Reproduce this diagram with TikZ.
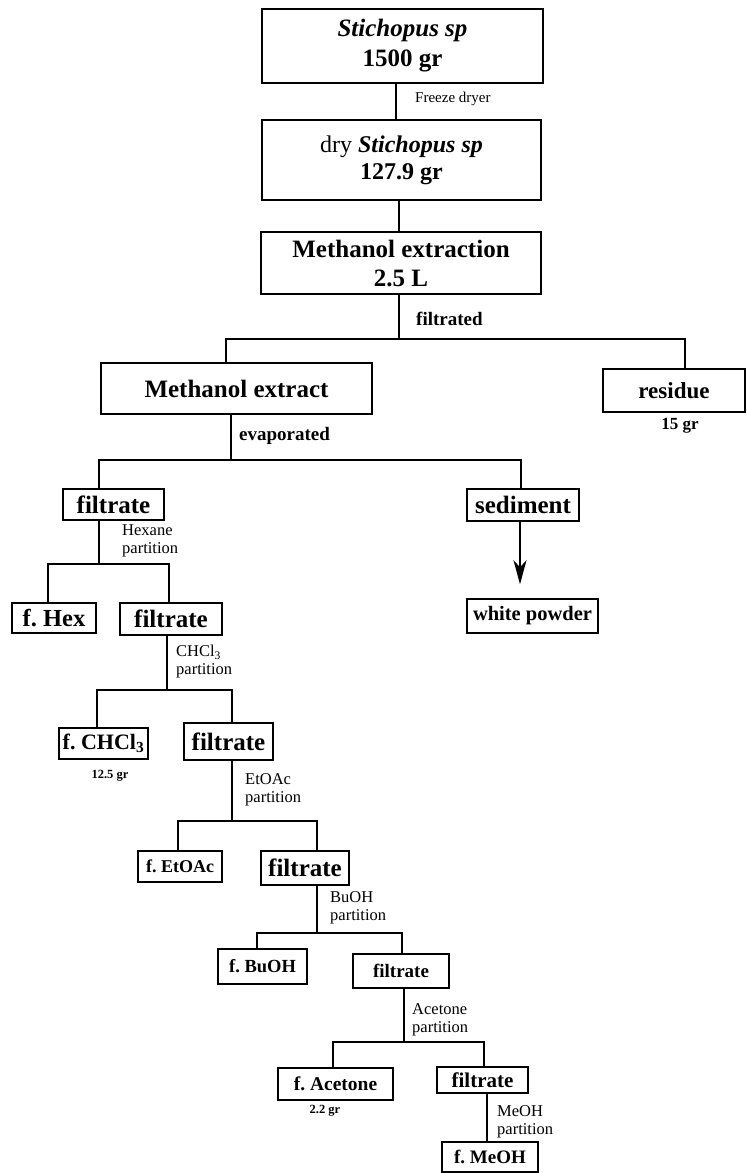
\documentclass[tikz,border=0pt]{standalone}
\usepackage{fontspec}
\setmainfont{Liberation Serif}
\usetikzlibrary{arrows.meta}
\frenchspacing
\newcommand{\fsz}[2]{\fontsize{#1}{#2}\selectfont}
\tikzset{
  box/.style={draw, line width=1.5pt, inner sep=0pt, align=center},
  conn/.style={line width=1.5pt},
  lbl/.style={inner sep=0pt, anchor=west, align=left, font=\fsz{16.5}{18}},
  wt/.style={inner sep=0pt, font=\bfseries\fsz{12.5}{14}},
}
\begin{document}
\frenchspacing
\begin{tikzpicture}[x=1pt,y=-1pt]
\useasboundingbox (0,0) rectangle (747,1173);

% boxes
\node[box, minimum width=281pt, minimum height=74pt, font=\bfseries\fsz{25}{30}] (b1) at (402.5,46) {\textit{Stichopus sp}\\1500 gr};
\node[box, minimum width=279pt, minimum height=80pt, font=\bfseries\fsz{24}{27}] (b2) at (401.5,160) {{\mdseries dry} \textit{Stichopus sp}\\127.9 gr};
\node[box, minimum width=280pt, minimum height=62pt, font=\bfseries\fsz{25}{29}] (b3) at (401,263) {Methanol extraction\\2.5 L};
\node[box, minimum width=271pt, minimum height=51pt, font=\bfseries\fsz{25}{27}] (mex) at (236.5,388.5) {Methanol extract};
\node[box, minimum width=142pt, minimum height=43pt, font=\bfseries\fsz{23}{26}] (res) at (674,390.5) {residue};
\node[box, minimum width=101pt, minimum height=31pt, font=\bfseries\fsz{25}{27}] (fil1) at (113.5,504.5) {filtrate};
\node[box, minimum width=112pt, minimum height=32pt, font=\bfseries\fsz{25}{27}] (sed) at (523,505) {sediment};
\node[box, minimum width=131pt, minimum height=34pt, font=\bfseries\fsz{20.5}{23}] (wp) at (532.5,616) {white powder};
\node[box, minimum width=84pt, minimum height=30pt, font=\bfseries\fsz{24.5}{27}] (fhex) at (54,618) {f. Hex};
\node[box, minimum width=102pt, minimum height=32pt, font=\bfseries\fsz{25}{27}] (fil2) at (171,619) {filtrate};
\node[box, minimum width=89pt, minimum height=31pt, font=\bfseries\fsz{22}{26}] (fchcl) at (103.5,743.5) {f. CHCl\textsubscript{3}};
\node[box, minimum width=89pt, minimum height=37pt, font=\bfseries\fsz{25}{27}] (fil3) at (228.5,741.5) {filtrate};
\node[box, minimum width=84pt, minimum height=31pt, font=\bfseries\fsz{18}{22}] (fetoac) at (180,866.5) {f. EtOAc};
\node[box, minimum width=88pt, minimum height=34pt, font=\bfseries\fsz{25}{27}] (fil4) at (305,868) {filtrate};
\node[box, minimum width=89pt, minimum height=35pt, font=\bfseries\fsz{18.5}{22}] (fbuoh) at (262.5,966.5) {f. BuOH};
\node[box, minimum width=96pt, minimum height=34pt, font=\bfseries\fsz{19}{23}] (fil5) at (401,971) {filtrate};
\node[box, minimum width=115pt, minimum height=32pt, font=\bfseries\fsz{19.5}{23}] (face) at (335.5,1084) {f. Acetone};
\node[box, minimum width=91pt, minimum height=26pt, font=\bfseries\fsz{21}{23}] (fil6) at (482.5,1080) {filtrate};
\node[box, minimum width=96pt, minimum height=30pt, font=\bfseries\fsz{19}{23}] (fmeoh) at (490,1157) {f. MeOH};

% connectors
\coordinate (v1) at (396,0);
\draw[conn] (b1.south -| v1) -- (b2.north -| v1);
\coordinate (v2) at (399,0);
\draw[conn] (b2.south -| v2) -- (b3.north -| v2);

\coordinate (s1) at (399,339);
\draw[conn] (b3.south -| s1) -- (s1);
\draw[conn] (s1) -| ([xshift=-10.5pt]mex.north);
\draw[conn] (s1) -| ([xshift=11pt]res.north);

\coordinate (s2) at (231,460);
\draw[conn] (mex.south -| s2) -- (s2);
\draw[conn] (s2) -| ([xshift=-14.5pt]fil1.north);
\draw[conn] (s2) -| ([xshift=-2pt]sed.north);

\draw[conn, -{Stealth[length=24pt,width=13pt,inset=7pt]}, shorten >=14pt] ([xshift=-3pt]sed.south) -- ([xshift=-12.5pt]wp.north);

\coordinate (s3) at (99,564);
\draw[conn] (fil1.south -| s3) -- (s3);
\draw[conn] (s3) -| ([xshift=-6pt]fhex.north);
\draw[conn] (s3) -| ([xshift=-2pt]fil2.north);

\coordinate (s4) at (167,690);
\draw[conn] (fil2.south -| s4) -- (s4);
\draw[conn] (s4) -| ([xshift=-6.5pt]fchcl.north);
\draw[conn] (s4) -| ([xshift=3.5pt]fil3.north);

\coordinate (s5) at (232,821);
\draw[conn] (fil3.south -| s5) -- (s5);
\draw[conn] (s5) -| ([xshift=-2pt]fetoac.north);
\draw[conn] (s5) -| ([xshift=12pt]fil4.north);

\coordinate (s6) at (317,933);
\draw[conn] (fil4.south -| s6) -- (s6);
\draw[conn] (s6) -| ([xshift=-5.5pt]fbuoh.north);
\draw[conn] (s6) -| ([xshift=1pt]fil5.north);

\coordinate (s7) at (404,1042);
\draw[conn] (fil5.south -| s7) -- (s7);
\draw[conn] (s7) -| ([xshift=-2.5pt]face.north);
\draw[conn] (s7) -| ([xshift=1.5pt]fil6.north);

\coordinate (v3) at (487,0);
\draw[conn] (fil6.south -| v3) -- (fmeoh.north -| v3);

% labels
\node[lbl, font=\fsz{15}{17}] (l1) at (415,99) {Freeze dryer};
\node[lbl, font=\bfseries\fsz{19}{21}] (l2) at (416,319) {filtrated};
\node[lbl, font=\bfseries\fsz{19}{21}] (l3) at (239,436) {evaporated};
\node[wt, font=\bfseries\fsz{17}{19}] (w1) at (680,426) {15 gr};
\node[lbl] (l4) at (122,541) {Hexane\\partition};
\node[lbl] (l5) at (176,662) {CHCl\textsubscript{3}\\partition};
\node[wt] (w2) at (110,776) {12.5 gr};
\node[lbl] (l6) at (245,790) {EtOAc\\partition};
\node[lbl] (l7) at (330,908) {BuOH\\partition};
\node[lbl] (l8) at (412,1020) {Acetone\\partition};
\node[wt] (w3) at (325,1111) {2.2 gr};
\node[lbl] (l9) at (497,1122) {MeOH\\partition};
\end{tikzpicture}
\end{document}
